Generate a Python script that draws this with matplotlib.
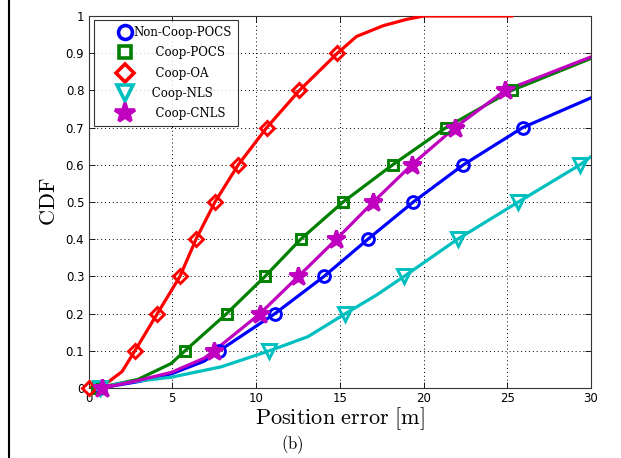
import matplotlib
matplotlib.use("Agg")
import matplotlib.pyplot as plt
from matplotlib.lines import Line2D

plt.rcParams['mathtext.fontset'] = 'cm'

# ---- data ----
labels = ["Non-Coop-POCS", "      Coop-POCS", "      Coop-OA", "     Coop-NLS", "      Coop-CNLS"]

# curve points
blue_x = [0.7, 2.95, 4.94, 6.9, 7.8, 11.13, 14.06, 16.68, 19.39, 22.38, 25.92, 30.0]
blue_y = [0.0, 0.017, 0.038, 0.072, 0.1, 0.2, 0.3, 0.4, 0.5, 0.6, 0.7, 0.78]

green_x = [0.5, 2.95, 4.94, 5.76, 8.25, 10.54, 12.67, 15.2, 18.16, 21.34, 25.27, 30.0]
green_y = [0.0, 0.023, 0.066, 0.1, 0.2, 0.3, 0.4, 0.5, 0.6, 0.7, 0.8, 0.886]

red_x = [0.0, 1.2, 2.0, 2.77, 4.11, 5.46, 6.42, 7.55, 8.94, 10.64, 12.59, 14.86, 16.0, 17.6, 19.0, 20.0, 25.3]
red_y = [0.0, 0.017, 0.044, 0.1, 0.2, 0.3, 0.4, 0.5, 0.6, 0.7, 0.8, 0.9, 0.945, 0.974, 0.991, 1.0, 1.0]

cyan_x = [0.7, 1.96, 4.94, 7.93, 10.8, 13.1, 15.34, 17.2, 18.84, 22.03, 25.66, 29.34, 30.0]
cyan_y = [0.0, 0.013, 0.029, 0.057, 0.1, 0.138, 0.2, 0.25, 0.3, 0.4, 0.5, 0.6, 0.622]

mag_x = [0.8, 2.95, 4.94, 6.9, 7.5, 10.24, 12.53, 14.8, 17.0, 19.3, 21.88, 24.87, 30.0]
mag_y = [0.0, 0.02, 0.042, 0.08, 0.1, 0.2, 0.3, 0.4, 0.5, 0.6, 0.7, 0.8, 0.89]

# marker points (at CDF deciles)
blue_mx = [0.7, 7.8, 11.13, 14.06, 16.68, 19.39, 22.38, 25.92]
green_mx = [0.5, 5.76, 8.25, 10.54, 12.67, 15.2, 18.16, 21.34, 25.27]
red_mx = [0.0, 2.77, 4.11, 5.46, 6.42, 7.55, 8.94, 10.64, 12.59, 14.86]
cyan_mx = [0.7, 10.8, 15.34, 18.84, 22.03, 25.66, 29.34]
mag_mx = [0.8, 7.5, 10.24, 12.53, 14.8, 17.0, 19.3, 21.88, 24.87]
decile = [0.0, 0.1, 0.2, 0.3, 0.4, 0.5, 0.6, 0.7, 0.8, 0.9]

xticks = [0, 5, 10, 15, 20, 25, 30]
yticks = [0, 0.1, 0.2, 0.3, 0.4, 0.5, 0.6, 0.7, 0.8, 0.9, 1.0]
yticklabels = ["0", "0.1", "0.2", "0.3", "0.4", "0.5", "0.6", "0.7", "0.8", "0.9", "1"]

# ---- figure ----
fig = plt.figure(figsize=(6.21, 4.58), dpi=100)
ax = fig.add_axes([88.5 / 621, 70 / 458, (591 - 88.5) / 621, (388 - 16) / 458])

series = [
    (blue_x, blue_y, blue_mx, 'b', 'o', 8.5, 'none'),
    (green_x, green_y, green_mx, 'g', 's', 7.2, 'none'),
    (red_x, red_y, red_mx, 'r', 'D', 7.5, 'none'),
    (cyan_x, cyan_y, cyan_mx, 'c', 'v', 9.5, 'none'),
    (mag_x, mag_y, mag_mx, 'm', '*', 13.5, 'm'),
]
handles = []
for (xs, ys, mx, c, m, ms, fc), lab in zip(series, labels):
    ax.plot(xs, ys, color=c, lw=2.3, solid_capstyle='round', solid_joinstyle='round', zorder=3)
    ax.plot(mx, decile[:len(mx)], linestyle='none', marker=m, ms=ms,
            mfc=fc, mec=c, mew=2.1, zorder=4, clip_on=False)
    handles.append(Line2D([], [], linestyle='none', marker=m, ms=ms + 1.5,
                          mfc=fc, mec=c, mew=2.6))

ax.set_xlim(0, 30)
ax.set_ylim(0, 1)
ax.set_xticks(xticks)
ax.set_yticks(yticks)
ax.set_yticklabels(yticklabels)
ax.tick_params(direction='in', top=True, right=True, labelsize=8.5, length=4, width=0.6, pad=3)
ax.grid(True, linestyle=(0, (1, 3)), color='black', linewidth=0.7)
for s in ax.spines.values():
    s.set_linewidth(0.8)
    s.set_color('#333333')

ax.set_xlabel(r'$\mathrm{Position\ error\ [m]}$', fontsize=16, labelpad=0)
ax.set_ylabel(r'$\mathrm{CDF}$', fontsize=16, labelpad=5)

leg = ax.legend(handles, labels, loc='upper left', bbox_to_anchor=(0.006, 0.995),
                prop={'family': 'DejaVu Serif', 'size': 8.5}, frameon=True, fancybox=False,
                handletextpad=-1.35, labelspacing=0.62, borderpad=0.5, handlelength=4.2,
                borderaxespad=0.2)
leg.get_frame().set_edgecolor('black')
leg.get_frame().set_linewidth(0.8)

fig.text(292 / 621, 1 - 445 / 458, r'$\mathrm{(b)}$', fontsize=12, ha='center', va='center')

fig.add_artist(Line2D([8.5 / 621, 8.5 / 621], [0, 1], color='black', lw=1.5, transform=fig.transFigure))

fig.savefig('out.png', dpi=100)
